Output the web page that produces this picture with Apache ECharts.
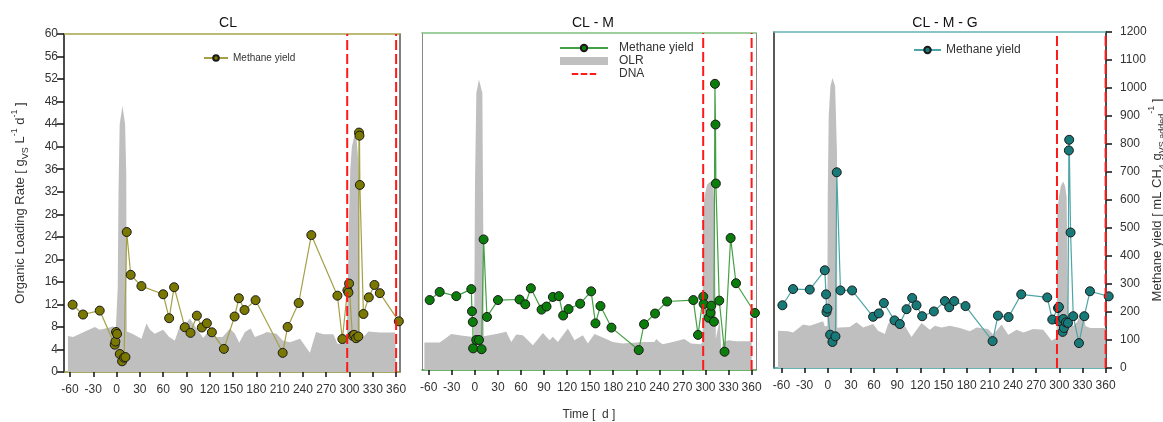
<!DOCTYPE html>
<html>
<head>
<meta charset="utf-8">
<script src="https://cdn.jsdelivr.net/npm/echarts@6/dist/echarts.min.js"></script>
<style>
  html, body { margin: 0; padding: 0; background: #fff; }
  #chart { width: 1163px; height: 422px; }
</style>
</head>
<body>
<div id="chart"></div>
<script>
// ---- data ----
const tickDays = [-60, -30, 0, 30, 60, 90, 120, 150, 180, 210, 240, 270, 300, 330, 360];
const dnaDays = [297, 360];
const panelTitles = ['CL', 'CL - M', 'CL - M - G'];

// methane yield [mL CH4 / gVS added]
const clDays = [-56.6, -43.2, -21.7, -2.4, -1.5, -0.7, 0.6, 4.1, 7.1, 9.6, 11.4, 13.1, 18.2, 32, 60, 67.7, 74.1, 87.9, 95.2, 103.4, 109.8, 116.3, 122.7, 138.2, 152, 157.5, 164.8, 179, 213.9, 220.3, 234.5, 250.8, 284.4, 290.8, 297.3, 298.6, 299.4, 303.7, 305.9, 308.4, 311.4, 312.2, 312.8, 313.3, 317.9, 324.8, 332.1, 339, 363.5];
const clYield = [239, 204, 218, 97, 108, 142, 135, 64, 38, 51, 53, 497, 345, 305, 276, 191, 301, 159, 139, 200, 158, 173, 141, 82, 197, 262, 220, 255, 68, 160, 245, 486, 271, 117, 290, 282, 314, 129, 132, 120, 126, 850, 839, 664, 206, 265, 309, 280, 180];

const clmDays = [-58.7, -45.7, -24.1, -4.6, -3.7, -2.6, -2.2, 1.9, 5.4, 8.8, 11.4, 15.8, 30.1, 58.2, 65.6, 72.9, 86.8, 93.3, 101.5, 109.3, 114.9, 121.9, 137, 151.3, 156.9, 163.4, 177.7, 213.2, 220.1, 234.4, 250, 284.2, 290.3, 297.1, 297.6, 304.1, 306.6, 307.5, 311, 312.3, 313, 313.5, 317.9, 324.8, 332.7, 339.7, 364.3];
const clmYield = [249, 278, 263, 288, 209, 171, 77, 107, 107, 74, 465, 189, 249, 251, 234, 291, 215, 226, 260, 263, 194, 217, 236, 280, 166, 228, 151, 71, 163, 201, 244, 249, 125, 261, 235, 186, 204, 229, 172, 1019, 874, 664, 247, 65, 470, 309, 203];

const clmgDays = [-58.7, -44.9, -23.3, -3.8, -2.2, -1.6, -0.4, 3.1, 6.1, 10, 11.7, 16.5, 31.6, 58.8, 66.2, 72.7, 86.5, 93.4, 102.1, 109.4, 115, 122.4, 137.5, 151.8, 157.4, 163.9, 178.5, 213.6, 220.5, 234.3, 250.7, 284.4, 290.9, 298.3, 299.5, 300, 304.3, 305.2, 306, 308.6, 311.2, 312.4, 312.8, 314.6, 318.1, 325.5, 332.4, 339.7, 364];
const clmgYield = [224, 282, 280, 349, 263, 200, 212, 119, 93, 113, 699, 277, 277, 183, 195, 232, 170, 157, 210, 250, 224, 185, 202, 239, 217, 239, 221, 96, 187, 182, 263, 252, 173, 214, 218, 167, 129, 175, 143, 163, 161, 777, 815, 484, 185, 89, 185, 274, 256];

// organic loading rate [gVS / L / d]
const clOlrDays = [-62.6, -56, -47, -28, -21.7, -9, -4.5, -1, 0.5, 1.5, 2.5, 4, 7.6, 11, 12.5, 12.8, 13.2, 14.8, 20.4, 32, 38.5, 43, 49.2, 60, 67.7, 75, 81.4, 88, 94.3, 103, 111.5, 120, 128.7, 136.5, 146, 152.4, 158, 165.3, 172.6, 178.2, 189, 193.2, 206, 213.9, 223.3, 236.2, 249, 256.9, 266.3, 279.2, 284.4, 296.4, 298, 299.5, 301, 303, 306, 309, 311, 312.5, 313.6, 318, 324.4, 330.8, 339.4, 358.7, 360];
const clOlr = [6.4, 6.2, 6.8, 8.0, 7.5, 7.9, 8.1, 7.5, 7.5, 15, 32, 44, 47.2, 44, 35, 15, 7.2, 7.0, 6.8, 5.9, 8.6, 7.5, 6.8, 7.5, 6.2, 5.6, 8.1, 8.3, 9.5, 7.7, 6.1, 7.4, 6.2, 6.2, 7.7, 6.8, 5.2, 7.1, 7.7, 6.2, 6.8, 7.1, 6.8, 5.6, 5.3, 5.9, 3.4, 7.1, 6.7, 6.7, 5.0, 5.2, 5.2, 28, 36, 40, 41.8, 41.5, 38, 30, 6.5, 6.2, 7.2, 7.1, 7.0, 7.0, 7.0];

const clmOlrDays = [-65.6, -45.7, -39.2, -30.6, -15.4, -4.6, -1, -0.3, 0.2, 2, 5.4, 9.8, 10.6, 11.2, 11.6, 12.7, 27.9, 40.9, 47.4, 53.9, 62.5, 75.5, 88.5, 97.2, 101.5, 108, 121, 129.7, 140.5, 147, 155.6, 164.3, 179.4, 192.4, 209.8, 220.6, 233.5, 236, 240, 244.4, 257.4, 272.5, 281.2, 294.2, 296.3, 296.8, 299, 302, 306, 310, 312, 313.5, 316, 318.5, 320.5, 323, 330, 340, 360];
const clmOlr = [4.9, 4.9, 5.5, 6.4, 6.1, 5.9, 5.9, 20, 33, 49.3, 51.7, 49.3, 33, 20, 6, 5.9, 6.4, 6.8, 5.0, 6.3, 6.2, 4.4, 6.6, 5.3, 5.9, 5.0, 7.4, 5.3, 6.2, 4.7, 6.4, 5.9, 5.0, 4.7, 4.9, 5.0, 5.0, 5.5, 5.0, 4.6, 5.0, 5.5, 4.7, 4.6, 5.0, 28, 31, 33, 33.5, 33, 28, 5.5, 5.5, 9, 3.5, 5, 5.3, 5.1, 5.1];

const clmgOlrDays = [-64.4, -51.4, -44.9, -31.9, -23.3, -6, -3.8, -0.5, 0, 1.3, 3.5, 6.1, 9.6, 12, 12.3, 15.6, 28.6, 37.2, 45.9, 58.8, 65.3, 74, 78.3, 84.8, 97.7, 108.5, 121.5, 132.3, 138.8, 147.4, 158.2, 171.2, 184.2, 192.8, 207.9, 214.4, 225.2, 233.9, 244.7, 253.3, 266.3, 279.2, 290, 296.5, 297.5, 299.5, 302, 305, 307.5, 309.5, 310.5, 311.5, 313.7, 318, 323, 327, 331, 334, 340, 360];
const clmgOlr = [6.65, 6.55, 6.35, 7.75, 7.55, 8.35, 7.45, 7.5, 30.6, 45, 50.3, 51.8, 50.3, 38.4, 7.2, 7.25, 7.3, 8.15, 7.25, 7.85, 6.65, 6.05, 7.9, 8.75, 8.05, 5.55, 8.05, 6.85, 7.55, 7.25, 7.55, 7.15, 6.55, 7.25, 6.95, 5.95, 7.75, 5.95, 6.85, 6.35, 6.95, 6.85, 4.9, 5.35, 28, 30.6, 32.5, 33.3, 32.5, 30.6, 18.8, 10, 8.3, 7.5, 8.2, 9.5, 9.8, 7.5, 7.15, 7.15];

// ---- chart ----
const FONT = 'Liberation Sans, Arial, sans-serif';
const zip = (a, b) => a.map((v, i) => [v, b[i]]);

const panels = [
  {
    grid: { left: 64, top: 34, width: 336, height: 338 },
    xMin: -67.7, xMax: 365,
    days: clDays, yld: clYield, olrDays: clOlrDays, olr: clOlr,
    name: 'Methane yield CL', marker: '#7b7800', line: '#a3a046',
    top: '#a6a44a', bottom: '#8c8a30', left: '#111', right: '#555'
  },
  {
    grid: { left: 422, top: 33, width: 334, height: 337 },
    xMin: -68.7, xMax: 365.7,
    days: clmDays, yld: clmYield, olrDays: clmOlrDays, olr: clmOlr,
    name: 'Methane yield CLM', marker: '#0b7d0b', line: '#44a044',
    top: '#7fbf7f', bottom: '#3c9c3c', left: '#888', right: '#888'
  },
  {
    grid: { left: 774, top: 32, width: 332, height: 336 },
    xMin: -69.6, xMax: 360.5,
    days: clmgDays, yld: clmgYield, olrDays: clmgOlrDays, olr: clmgOlr,
    name: 'Methane yield CLMG', marker: '#177a78', line: '#4da5a5',
    top: '#66b3b3', bottom: '#3a9a9a', left: '#222', right: '#111'
  }
];

const rich = {
  t: { fontSize: 13, fontFamily: FONT, color: '#333', lineHeight: 20 },
  sub: { fontSize: 9, fontFamily: FONT, color: '#333', lineHeight: 9, verticalAlign: 'bottom' },
  sup: { fontSize: 9, fontFamily: FONT, color: '#333', lineHeight: 9, verticalAlign: 'top' }
};

// three short red dashes, padded top and bottom so the legend keeps them thin
const dashIcon = 'path://M0,0h0.01v0.01h-0.01z M0,6h13v4h-13z M18,6h13v4h-13z M36,6h13v4h-13z M0,16h0.01v0.01h-0.01z';

const grid = [], xAxis = [], yAxis = [], series = [];
panels.forEach((p, i) => {
  grid.push(Object.assign({ outerBoundsMode: 'none' }, p.grid));
  xAxis.push({
    gridIndex: i, type: 'value', min: p.xMin, max: p.xMax, position: 'bottom',
    axisLine: { onZero: false, lineStyle: { color: p.bottom, width: 1.5 } },
    axisTick: { customValues: tickDays, length: 5, lineStyle: { color: '#111', width: 1.5 } },
    axisLabel: { customValues: tickDays, fontSize: 12, fontFamily: FONT, color: '#333', margin: 12 },
    splitLine: { show: false },
    name: i === 1 ? 'Time [  d ]' : '', nameLocation: 'middle', nameGap: 39, nameMoveOverlap: false,
    nameTextStyle: { fontSize: 12, fontFamily: FONT, color: '#333' }
  });
  xAxis.push({
    gridIndex: i, type: 'value', min: p.xMin, max: p.xMax, position: 'top',
    axisLine: { onZero: false, lineStyle: { color: p.top, width: 1.5 } },
    axisTick: { show: false }, axisLabel: { show: false }, splitLine: { show: false }
  });
  yAxis.push({
    gridIndex: i, type: 'value', min: 0, max: 60, interval: 4, position: 'left',
    axisLine: { show: true, onZero: false, lineStyle: { color: p.left, width: i === 1 ? 1 : 1.5 } },
    axisTick: { show: i === 0, length: 7, lineStyle: { color: '#111', width: 1.5 } },
    axisLabel: { show: i === 0, fontSize: 12, fontFamily: FONT, color: '#333', margin: 6 },
    splitLine: { show: false },
    name: i === 0 ? '{t|Organic Loading Rate [ g}{sub|VS}{t| L}{sup|-1}{t| d}{sup|-1}{t| ]}' : '',
    nameLocation: 'middle', nameRotate: 90, nameGap: 34,
    nameTextStyle: { rich }
  });
  yAxis.push({
    gridIndex: i, type: 'value', min: 0, max: 1200, interval: 100, position: 'right',
    axisLine: { show: true, onZero: false, lineStyle: { color: p.right, width: i === 1 ? 1 : 1.5 } },
    axisTick: { show: i === 2, length: 6, lineStyle: { color: '#111', width: 1.5 } },
    axisLabel: {
      show: i === 2, fontSize: 12, fontFamily: FONT, color: '#333', margin: 14,
      formatter: v => String(v)
    },
    splitLine: { show: false },
    name: i === 2 ? '{t|Methane yield [ mL CH}{sub|4}{t| g}{sub|VS added}{sup|-1}{t| ]}' : '',
    nameLocation: 'middle', nameRotate: 90, nameGap: 41, nameMoveOverlap: false,
    nameTextStyle: { rich }
  });

  series.push({
    type: 'line', name: 'OLR', xAxisIndex: 2 * i, yAxisIndex: 2 * i,
    data: zip(p.olrDays, p.olr), symbol: 'none', silent: true,
    lineStyle: { width: 0 }, areaStyle: { color: '#bfbfbf', opacity: 1 }, z: 1
  });
  dnaDays.forEach(d => {
    series.push({
      type: 'line', name: 'DNA', xAxisIndex: 2 * i, yAxisIndex: 2 * i,
      data: [[d, 0], [d, 60]], symbol: 'none', silent: true,
      lineStyle: { color: '#ff1a1a', width: 2, type: [10, 4] }, z: 4
    });
  });
  series.push({
    type: 'line', name: p.name, xAxisIndex: 2 * i, yAxisIndex: 2 * i + 1,
    data: zip(p.days, p.yld), symbol: 'circle', symbolSize: 9, clip: false,
    itemStyle: { color: p.marker, borderColor: '#1a1a1a', borderWidth: 1 },
    lineStyle: { color: p.line, width: 1.2 }, z: 3
  });
});

const legendText = () => 'Methane yield';
const option = {
  animation: false,
  backgroundColor: '#fff',
  title: panelTitles.map((t, i) => ({
    text: t, left: [228, 593, 945][i], top: 16, textAlign: 'center', padding: 0,
    textStyle: { fontSize: 14, fontWeight: 'normal', fontFamily: FONT, color: '#111' }
  })),
  legend: [
    {
      data: ['Methane yield CL'], left: 203, top: 53, itemWidth: 24, itemHeight: 7,
      selectedMode: false, formatter: legendText, padding: 0,
      textStyle: { fontSize: 10, fontFamily: FONT, color: '#333' }
    },
    {
      orient: 'vertical', left: 559, top: 42, itemWidth: 48, itemHeight: 8, itemGap: 1,
      selectedMode: false, padding: 0,
      formatter: n => (n.indexOf('Methane') === 0 ? 'Methane yield' : n),
      data: [
        { name: 'Methane yield CLM' },
        { name: 'OLR', icon: 'rect', itemStyle: { color: '#bfbfbf' } },
        { name: 'DNA', icon: dashIcon, itemStyle: { color: '#ff1a1a', borderWidth: 0 } }
      ],
      textStyle: { fontSize: 12, lineHeight: 12, fontFamily: FONT, color: '#333', padding: [0, 0, 0, 6] }
    },
    {
      data: ['Methane yield CLMG'], left: 913, top: 44, itemWidth: 27, itemHeight: 8,
      selectedMode: false, formatter: legendText, padding: 0,
      textStyle: { fontSize: 12, fontFamily: FONT, color: '#333' }
    }
  ],
  grid, xAxis, yAxis, series
};

const chart = echarts.init(document.getElementById('chart'));
chart.setOption(option);
</script>
</body>
</html>
